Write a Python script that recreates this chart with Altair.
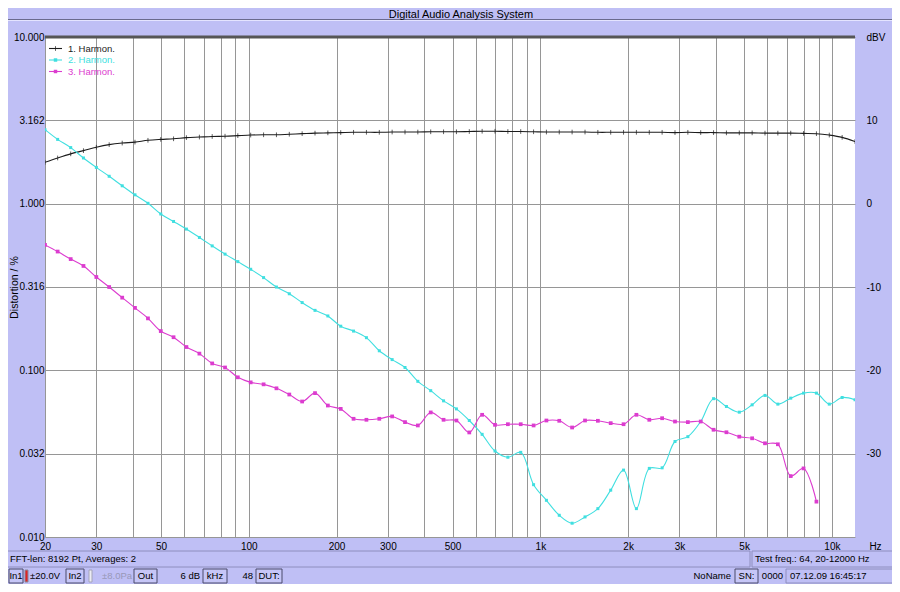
import altair as alt
import pandas as pd

# ---------------- data ----------------
FREQ = [20.0, 22.1, 24.5, 27.1, 30.0, 33.2, 36.8, 40.7, 45.1, 49.9, 55.2, 61.1,
        67.7, 74.9, 82.9, 91.7, 101.5, 112.4, 124.4, 137.7, 152.4, 168.7, 186.7,
        206.7, 228.7, 253.2, 280.3, 310.2, 343.4, 380.0, 420.7, 465.6, 515.4,
        570.5, 631.4, 699.0, 773.7, 856.4, 947.9, 1049, 1161, 1285, 1423, 1575,
        1743, 1929, 2135, 2364, 2616, 2896, 3206, 3548, 3927, 4347, 4812, 5326,
        5895, 6525, 7223, 7994, 8849, 9795, 10842, 12000]

H1 = [1.77, 1.88, 1.99, 2.08, 2.18, 2.26, 2.31, 2.34, 2.40, 2.43, 2.45, 2.49,
      2.51, 2.53, 2.54, 2.56, 2.58, 2.59, 2.59, 2.61, 2.63,
      2.65, 2.66, 2.67, 2.68, 2.68, 2.68, 2.69, 2.69, 2.69, 2.70, 2.70, 2.70,
      2.71, 2.72, 2.72, 2.71, 2.71, 2.70,
      2.69, 2.69, 2.69, 2.69, 2.68, 2.68, 2.68, 2.68, 2.68, 2.68, 2.67, 2.68,
      2.67, 2.67, 2.66, 2.66, 2.66, 2.65, 2.65, 2.65,
      2.64, 2.63, 2.58, 2.50, 2.36]

H2 = [2.78, 2.43, 2.17, 1.88, 1.65, 1.46, 1.28, 1.13, 1.005, 0.867, 0.782, 0.704,
      0.627, 0.558, 0.498, 0.449, 0.404, 0.360, 0.316, 0.288,
      0.255, 0.229, 0.212, 0.184, 0.172, 0.157, 0.131, 0.116, 0.104, 0.0859,
      0.0755, 0.0656, 0.0587, 0.050, 0.0413, 0.0328, 0.0301, 0.0322, 0.0206,
      0.0166, 0.0135, 0.0121, 0.0132, 0.0148,
      0.0191, 0.0252, 0.0148, 0.0258, 0.0260, 0.0374, 0.0400, 0.0493, 0.0676,
      0.0607, 0.0561, 0.0621, 0.0707, 0.0627, 0.0681, 0.0730, 0.0730, 0.0627,
      0.0687, 0.0665]

H3 = [0.566, 0.516, 0.465, 0.423, 0.363, 0.316, 0.273, 0.237, 0.205, 0.172,
      0.158, 0.138, 0.126, 0.110, 0.104, 0.0908, 0.0847, 0.0824, 0.078, 0.0716,
      0.0650, 0.0730, 0.0615, 0.0587, 0.0512, 0.0505, 0.0512, 0.0529, 0.0489,
      0.0467, 0.0559, 0.0505, 0.0500, 0.0424, 0.0541, 0.0471, 0.0475, 0.0475,
      0.0467, 0.0500, 0.0498, 0.0454, 0.0500, 0.0498,
      0.0482, 0.0475, 0.0541, 0.0505, 0.0516, 0.0493, 0.0489, 0.0493, 0.0440,
      0.0425, 0.0400, 0.0391, 0.0365, 0.0360, 0.0232, 0.0258, 0.0163,
      None, None, None]

SERIES = ["1. Harmon.", "2. Harmon.", "3. Harmon."]
COLORS = ["#1c1c1c", "#40dfe0", "#dc3ccf"]

GRID_FREQ = [20, 30, 40, 50, 60, 70, 80, 90,
             100, 200, 300, 400, 500, 600, 700, 800, 900,
             1000, 2000, 3000, 4000, 5000, 6000, 7000, 8000, 9000, 10000]
LABEL_FREQ = [20, 30, 50, 100, 200, 300, 500, 1000, 2000, 3000, 5000, 10000]
Y_TICKS = [10, 3.1623, 1, 0.31623, 0.1, 0.031623, 0.01]
DBV_TICKS = [-30, -20, -10, 0, 10, 20]

TITLE = "Digital Audio Analysis System"
STATUS_LEFT = "FFT-len: 8192 Pt, Averages: 2"
STATUS_RIGHT = "Test freq.: 64, 20-12000 Hz"

# ---------------- style ----------------
FONT = "Liberation Sans"
BG = "#bfbff5"
GRID = "#969696"
OX, OY = 45, 37          # page position of the plot origin
W, H = 810, 500

rows = []
for name, vals in zip(SERIES, [H1, H2, H3]):
    for f, v in zip(FREQ, vals):
        if v is not None:
            rows.append({"freq": f, "value": v, "series": name})
df = pd.DataFrame(rows)

label_list = ",".join(str(v) for v in LABEL_FREQ)
x_enc = alt.X(
    "freq:Q",
    scale=alt.Scale(type="log", domain=[20, 12000]),
    axis=alt.Axis(
        values=GRID_FREQ,
        labelExpr=f"indexof([{label_list}], datum.value) >= 0 ? "
                  "(datum.value >= 1000 ? (datum.value / 1000) + 'k' : '' + datum.value) : ''",
        grid=True, gridColor=GRID, gridWidth=1, ticks=False, tickSize=0,
        domain=False, labelPadding=4, labelFlush=False, labelOverlap=False,
        labelFont=FONT, labelFontSize=10, labelColor="black",
        title="Hz", titleX=830, titleY=9, titleBaseline="middle",
        titleAlign="center", titleAngle=0, titleFont=FONT, titleFontSize=10,
        titleFontWeight="normal", titleColor="black",
    ),
)
y_enc = alt.Y(
    "value:Q",
    scale=alt.Scale(type="log", domain=[0.01, 10]),
    axis=alt.Axis(
        values=Y_TICKS, format=".3f",
        grid=True, gridColor=GRID, gridWidth=1, ticks=False, tickSize=0,
        domain=False, labelPadding=1, labelOverlap=False, labelFlush=False,
        labelFont=FONT, labelFontSize=10, labelColor="black",
        title="Distortion / %", titleX=-31, titleY=250, titleAngle=270,
        titleBaseline="middle", titleAlign="center", titleFont=FONT,
        titleFontSize=10.5, titleFontWeight="normal", titleColor="black",
    ),
)

base = alt.Chart(df)
data_layers = []
for i, (name, col) in enumerate(zip(SERIES, COLORS)):
    sub = base.transform_filter(alt.datum.series == name)
    data_layers.append(
        sub.mark_line(interpolate="catmull-rom", strokeWidth=1.1, color=col, clip=True)
        .encode(x=x_enc, y=y_enc)
    )
    if i == 0:
        pts = sub.mark_point(shape="M0,-1L0,1", size=22, stroke=col,
                             strokeWidth=1, filled=False, clip=True)
    elif i == 1:
        pts = sub.mark_point(shape="square", size=9, color=col, filled=True,
                             opacity=1, clip=True)
    else:
        pts = sub.mark_point(shape="square", size=14, color=col, filled=True,
                             opacity=1, clip=True)
    data_layers.append(pts.encode(x=x_enc, y=y_enc))

main = alt.layer(*data_layers)

dbv_layer = alt.Chart(pd.DataFrame({"dbv": DBV_TICKS})).mark_point(opacity=0).encode(
    y=alt.Y("dbv:Q", scale=alt.Scale(domain=[-40, 20]),
            axis=alt.Axis(orient="right", values=DBV_TICKS,
                          labelExpr="datum.value == 20 ? 'dBV' : '' + datum.value",
                          grid=False, ticks=False, tickSize=0, domain=False,
                          labelPadding=11, labelOverlap=False, labelFlush=False,
                          labelFont=FONT, labelFontSize=10, labelColor="black",
                          title=None)),
    x=alt.value(0),
)

# ---------------- decorations (window chrome) ----------------
dummy = pd.DataFrame({"k": [0]})


def box(x1, y1, x2, y2, fill, stroke, sw=1.0):
    return alt.Chart(dummy).mark_rect(fill=fill, stroke=stroke, strokeWidth=sw).encode(
        x=alt.value(x1 - OX), x2=alt.value(x2 - OX),
        y=alt.value(y1 - OY), y2=alt.value(y2 - OY))


def hline(x1, x2, y, color, sw=1.0):
    return alt.Chart(dummy).mark_rule(color=color, strokeWidth=sw).encode(
        x=alt.value(x1 - OX), x2=alt.value(x2 - OX), y=alt.value(y - OY))


def txt(s, x, y, align="left", color="black", size=9.5):
    return alt.Chart(dummy).mark_text(text=s, align=align, baseline="middle",
                                      color=color, fontSize=size, font=FONT).encode(
        x=alt.value(x - OX), y=alt.value(y - OY))


def button(x1, x2, label, y1=569, y2=583):
    return [box(x1, y1, x2, y2, "#c6c6f7", "#4a4a6a"),
            txt(label, (x1 + x2) / 2, (y1 + y2) / 2, align="center")]


decor = []
# title bar
decor.append(hline(0, 900, 19.5, "#6a6a8e", 1))
decor.append(hline(0, 900, 20.5, "#e4e4ff", 1))
decor.append(txt(TITLE, 461, 14.5, align="center", size=11))
# plot top border
decor.append(hline(OX, OX + W, OY, "#565656", 3))
# legend
LEG_Y = [48.5, 60, 71.5]
for i, (name, col) in enumerate(zip(SERIES, COLORS)):
    decor.append(hline(49, 62, LEG_Y[i], col, 1.1))
    if i == 0:
        decor.append(alt.Chart(dummy).mark_point(shape="M0,-1L0,1", size=22, stroke=col,
                                                 strokeWidth=1, filled=False)
                     .encode(x=alt.value(55.5 - OX), y=alt.value(LEG_Y[i] - OY)))
    else:
        decor.append(alt.Chart(dummy).mark_point(shape="square", size=12, color=col,
                                                 filled=True, opacity=1)
                     .encode(x=alt.value(55.5 - OX), y=alt.value(LEG_Y[i] - OY)))
    decor.append(txt(name, 68, LEG_Y[i], color=col, size=9.5))
# status row 1
decor.append(box(2, 551, 750, 567, "transparent", "#8e8ebe"))
decor.append(box(752, 551, 898, 567, "transparent", "#8e8ebe"))
decor.append(txt(STATUS_LEFT, 10, 559))
decor.append(txt(STATUS_RIGHT, 755, 559))
# status row 2
decor += button(9, 23, "In1")
decor.append(box(25, 570, 28, 582, "#e02424", "#8a8a9a"))
decor.append(txt("±20.0V", 30, 576))
decor += button(66, 84, "In2")
decor.append(box(89, 570, 92, 582, "#ececf4", "#a4a4b8"))
decor.append(txt("±8.0Pa", 102, 576, color="#9898b8"))
decor += button(134, 157, "Out")
decor.append(txt("6 dB", 200, 576, align="right"))
decor += button(203, 227, "kHz")
decor.append(txt("48", 253, 576, align="right"))
decor += button(256, 282, "DUT:")
decor.append(txt("NoName", 731, 576, align="right"))
decor += button(735, 758, "SN:")
decor.append(txt("0000", 783, 576, align="right"))
decor.append(box(786, 569, 898, 583, "transparent", "#8e8ebe"))
decor.append(txt("07.12.09 16:45:17", 790, 576))

chart = alt.layer(main, dbv_layer, *decor).resolve_scale(y="independent").properties(
    width=W, height=H,
    autosize=alt.AutoSizeParams(type="none"),
    padding={"left": 37, "top": 29, "right": 37, "bottom": 47},
).configure(background=BG).configure_view(fill="white", strokeWidth=0)

chart.save("out.html", embed_options={"renderer": "svg", "actions": False})
